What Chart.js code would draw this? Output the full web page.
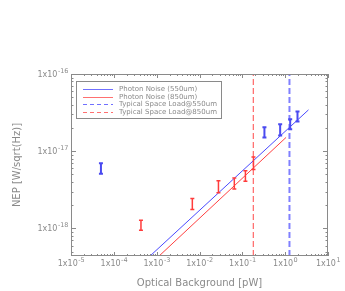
<!DOCTYPE html>
<html>
<head>
<meta charset="utf-8">
<script src="https://cdn.jsdelivr.net/npm/chart.js@4.4.0/dist/chart.umd.min.js"></script>
<style>
  html, body { margin:0; padding:0; background:#fff; }
</style>
</head>
<body>
<canvas id="c" width="345" height="291"></canvas>
<script>
// ---- data ----
var xTicks = [1e-5, 1e-4, 1e-3, 1e-2, 1e-1, 1e0, 1e1];
var yTicks = [1e-18, 1e-17, 1e-16];
var xRange = [1e-5, 1e1];
var yRange = [4.4e-19, 1e-16];

// measurements with error bars
var blueX  = [5e-5, 0.328, 0.764, 1.31, 1.94];
var blueLo = [5.1e-18, 1.51e-17, 1.60e-17, 1.93e-17, 2.42e-17];
var blueHi = [7.0e-18, 2.05e-17, 2.24e-17, 2.60e-17, 3.26e-17];
var redX   = [4.3e-4, 6.8e-3, 0.0277, 0.065, 0.118, 0.182];
var redLo  = [9.5e-19, 1.76e-18, 2.89e-18, 3.25e-18, 4.08e-18, 5.8e-18];
var redHi  = [1.28e-18, 2.44e-18, 4.16e-18, 4.5e-18, 5.6e-18, 8.4e-18];

// photon noise lines
var photon550X = [7.0e-4, 3.5];
var photon550Y = [4.4e-19, 3.43e-17];
var photon850X = [1.14e-3, 1.05];
var photon850Y = [4.4e-19, 1.51e-17];

// typical space load
var load550 = 1.26;
var load850 = 0.18;

var BLUE = '#4a4aff', RED = '#ff4040', GREY = '#8a8a8a';
var FONT = '"DejaVu Sans"';

function pts(xs, ys) { return xs.map(function(x, i) { return { x:x, y:ys[i] }; }); }
function mid(lo, hi) { return lo.map(function(l, i) { return Math.sqrt(l * hi[i]); }); }
function expOf(v) { return String(Math.round(Math.log10(v))); }

// "1x10" with a raised exponent; align: 'center' or 'right'
function drawExpLabel(c, v, x, y, align) {
  var base = '1x10', ex = expOf(v);
  c.font = '8px ' + FONT;
  var wb = c.measureText(base).width;
  c.font = '6.5px ' + FONT;
  var we = c.measureText(ex).width;
  var x0 = align === 'right' ? x - wb - we : x - (wb + we) / 2;
  c.font = '8px ' + FONT;
  c.fillText(base, x0, y + 3);
  c.font = '6.5px ' + FONT;
  c.fillText(ex, x0 + wb + 0.5, y - 1.5);
}

// inward ticks on all four sides, frame and tick labels
var frameTicks = {
  id:'frameTicks',
  afterDraw: function(chart) {
    var c = chart.ctx, a = chart.chartArea, xs = chart.scales.x, ys = chart.scales.y;
    c.save();
    c.strokeStyle = GREY; c.lineWidth = 1;
    c.strokeRect(a.left + 0.5, a.top + 0.5, a.right - a.left - 1, a.bottom - a.top - 1);
    c.beginPath();
    for (var k = -6; k <= 1; k++) {
      for (var m = 1; m <= 9; m++) {
        var v = m * Math.pow(10, k);
        if (v >= xRange[0] * 0.999 && v <= xRange[1] * 1.001) {
          var px = Math.round(xs.getPixelForValue(v)) + 0.5, L = m === 1 ? 4 : 2;
          c.moveTo(px, a.bottom); c.lineTo(px, a.bottom - L);
          c.moveTo(px, a.top); c.lineTo(px, a.top + L);
        }
      }
    }
    for (var k2 = -19; k2 <= -16; k2++) {
      for (var m2 = 1; m2 <= 9; m2++) {
        var w = m2 * Math.pow(10, k2);
        if (w >= yRange[0] && w <= yRange[1] * 1.001) {
          var py = Math.round(ys.getPixelForValue(w)) + 0.5, L2 = m2 === 1 ? 5 : 2.5;
          c.moveTo(a.left, py); c.lineTo(a.left + L2, py);
          c.moveTo(a.right, py); c.lineTo(a.right - L2, py);
        }
      }
    }
    c.stroke();
    c.fillStyle = GREY; c.textBaseline = 'alphabetic'; c.textAlign = 'left';
    xs.ticks.forEach(function(t) {
      drawExpLabel(c, t.value, xs.getPixelForValue(t.value), a.bottom + 7, 'center');
    });
    ys.ticks.forEach(function(t) {
      drawExpLabel(c, t.value, a.left - 3, ys.getPixelForValue(t.value), 'right');
    });
    c.restore();
  }
};

// vertical error bars for the measurement datasets
var errorBars = {
  id:'errorBars',
  afterDatasetsDraw: function(chart) {
    var c = chart.ctx, xs = chart.scales.x, ys = chart.scales.y;
    chart.data.datasets.forEach(function(ds) {
      if (!ds.lo) return;
      c.save();
      c.strokeStyle = ds.barColor; c.lineWidth = ds.barWidth;
      ds.data.forEach(function(p, i) {
        var px = xs.getPixelForValue(p.x);
        var y1 = ys.getPixelForValue(ds.lo[i]), y2 = ys.getPixelForValue(ds.hi[i]);
        c.beginPath();
        c.moveTo(px, y1); c.lineTo(px, y2);
        c.moveTo(px - 2, y1); c.lineTo(px + 2, y1);
        c.moveTo(px - 2, y2); c.lineTo(px + 2, y2);
        c.stroke();
      });
      c.restore();
    });
  }
};

// boxed legend inside the plot, upper left
var boxLegend = {
  id:'boxLegend',
  afterDraw: function(chart) {
    var c = chart.ctx, a = chart.chartArea;
    var items = chart.data.datasets.filter(function(d) { return d.legendColor; });
    var x0 = a.left + 5, y0 = a.top + 7, w = 145, rowH = 7.7;
    c.save();
    c.strokeStyle = GREY; c.lineWidth = 1;
    c.strokeRect(x0 + 0.5, y0 + 0.5, w, 37);
    c.restore();
    items.forEach(function(d, i) {
      var y = Math.round(y0 + 8 + i * rowH);
      c.save();
      c.fillStyle = d.legendColor;
      if (d.borderDash) {
        for (var s = 0; s < 30; s += 7) c.fillRect(x0 + 7 + s, y, Math.min(4, 30 - s), 1);
      } else {
        c.fillRect(x0 + 7, y, 30, 1);
      }
      c.font = '7px ' + FONT;
      c.fillStyle = GREY; c.textBaseline = 'middle';
      c.fillText(d.label, x0 + 43, y + 0.5);
      c.restore();
    });
  }
};

new Chart(document.getElementById('c'), {
  type:'scatter',
  data:{ datasets:[
    { label:'Photon Noise (550um)', legendColor:'#7070ff', type:'line', data:pts(photon550X, photon550Y),
      borderColor:BLUE, borderWidth:1, pointRadius:0, fill:false },
    { label:'Photon Noise (850um)', legendColor:'#ff7070', type:'line', data:pts(photon850X, photon850Y),
      borderColor:RED, borderWidth:1, pointRadius:0, fill:false },
    { label:'Typical Space Load@550um', legendColor:'#7070ff', type:'line', data:pts([load550, load550], yRange),
      borderColor:'#8080ff', borderWidth:2, borderDash:[6, 3], pointRadius:0, fill:false },
    { label:'Typical Space Load@850um', legendColor:'#ff7070', type:'line', data:pts([load850, load850], yRange),
      borderColor:'#ff4848', borderWidth:1, borderDash:[6, 3], pointRadius:0, fill:false },
    { label:'550um data', data:pts(blueX, mid(blueLo, blueHi)), lo:blueLo, hi:blueHi,
      barColor:'#4a4af0', barWidth:2, pointRadius:0 },
    { label:'850um data', data:pts(redX, mid(redLo, redHi)), lo:redLo, hi:redHi,
      barColor:'#ff3c3c', barWidth:1.5, pointRadius:0 }
  ]},
  options:{
    responsive:false, animation:false,
    layout:{ padding:{ top:74, right:17, left:0, bottom:0 } },
    plugins:{ legend:{ display:false }, tooltip:{ enabled:false } },
    scales:{
      x:{
        type:'logarithmic', min:xRange[0], max:xRange[1],
        grid:{ display:false }, border:{ display:false },
        afterBuildTicks:function(s) { s.ticks = xTicks.map(function(v) { return { value:v }; }); },
        afterFit:function(s) { s.height = 35; },
        ticks:{ display:false },
        title:{ display:true, text:'Optical Background [pW]', color:GREY,
          font:{ family:'DejaVu Sans', size:10 }, padding:{ top:0, bottom:2 } }
      },
      y:{
        type:'logarithmic', min:yRange[0], max:yRange[1],
        grid:{ display:false }, border:{ display:false },
        afterBuildTicks:function(s) { s.ticks = yTicks.map(function(v) { return { value:v }; }); },
        afterFit:function(s) { s.width = 71; },
        ticks:{ display:false },
        title:{ display:true, text:'NEP [W/sqrt(Hz)]', color:GREY,
          font:{ family:'DejaVu Sans', size:10 }, padding:{ top:11, bottom:0 } }
      }
    }
  },
  plugins:[frameTicks, errorBars, boxLegend]
});
</script>
</body>
</html>
